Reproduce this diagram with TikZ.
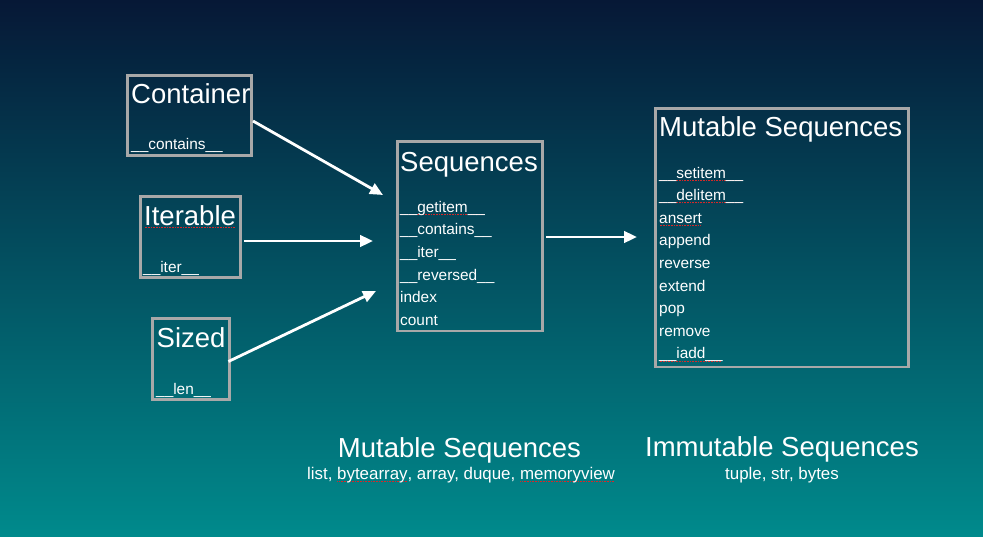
\documentclass[tikz,border=0pt]{standalone}
\usepackage{fontspec}
\setmainfont{Liberation Sans}
\usetikzlibrary{arrows.meta}
\definecolor{bgtop}{RGB}{6,24,54}
\definecolor{bgbot}{RGB}{0,138,140}
\definecolor{boxgray}{RGB}{168,168,168}
\definecolor{spellred}{RGB}{215,40,40}
\newcommand\sq[1]{\setbox0=\hbox{#1}\rlap{\color{spellred}\leaders\hbox to 1.6pt{\hss\vrule width 1pt height -1.8pt depth 2.8pt\hss}\hskip\wd0}\box0}
\tikzset{
  boxnode/.style={draw=boxgray, line width=2.7pt, inner sep=0pt, outer sep=0pt, anchor=north west},
  title/.style={text=white, inner sep=0pt, anchor=base west, font=\fontsize{27.5}{30}\selectfont},
  item/.style={text=white, inner sep=0pt, anchor=base west, font=\fontsize{15.4}{18}\selectfont},
  bigcap/.style={text=white, inner sep=0pt, anchor=base, font=\fontsize{27.5}{30}\selectfont},
  subcap/.style={text=white, inner sep=0pt, anchor=base, font=\fontsize{16.9}{19}\selectfont},
  arr/.style={draw=white, line width=2.8pt, -{Triangle[length=13pt,width=11.5pt]}}
}
\begin{document}
\begin{tikzpicture}[x=1pt,y=-1pt]
\shade[top color=bgtop, bottom color=bgbot] (0,0) rectangle (983,536);
\useasboundingbox (0,0) rectangle (983,536);

% boxes
\node[boxnode, minimum width=124pt, minimum height=80pt] (container) at (127.4,75.4) {};
\node[boxnode, minimum width=100pt, minimum height=81pt] (iterable) at (140.4,196.4) {};
\node[boxnode, minimum width=77pt, minimum height=81pt] (sized) at (152.4,318.4) {};
\node[boxnode, minimum width=145pt, minimum height=189.5pt] (seq) at (397.4,141.4) {};
\node[boxnode, minimum width=253pt, minimum height=258.5pt] (mut) at (655.4,108.4) {};

% Container
\node[title] (ctitle) at (131,103.5) {Container};
\node[item] (citem) at (131,149.5) {\_\_contains\_\_};
% Iterable
\node[title] (ititle) at (144,225) {\sq{Iterable}};
\node[item] (iitem) at (143,272) {\_\_iter\_\_};
% Sized
\node[title] (stitle) at (156.5,347) {Sized};
\node[item] (sitem) at (156,394) {\_\_len\_\_};

% Sequences
\node[title] (seqtitle) at (400,171) {Sequences};
\node[item] (q1) at (400,212.3) {\sq{\_\_getitem\_\_}};
\node[item] (q2) at (400,234.9) {\_\_contains\_\_};
\node[item] (q3) at (400,257.5) {\_\_iter\_\_};
\node[item] (q4) at (400,280.1) {\_\_reversed\_\_};
\node[item] (q5) at (400,302.7) {index};
\node[item] (q6) at (400,325.3) {count};

% Mutable Sequences box
\node[title] (muttitle) at (659,136.5) {Mutable Sequences};
\node[item] (m1) at (659,178) {\sq{\_\_setitem\_\_}};
\node[item] (m2) at (659,200.6) {\sq{\_\_delitem\_\_}};
\node[item] (m3) at (659,223.2) {\sq{ansert}};
\node[item] (m4) at (659,245.8) {append};
\node[item] (m5) at (659,268.4) {reverse};
\node[item] (m6) at (659,291) {extend};
\node[item] (m7) at (659,313.6) {pop};
\node[item] (m8) at (659,336.2) {remove};
\node[item] (m9) at (659,358.8) {\sq{\_\_iadd\_\_}};

% bottom captions
\node[bigcap] (mcap) at (459.5,457) {Mutable Sequences};
\node[subcap] (msub) at (461,479) {list, \sq{bytearray}, array, duque, \sq{memoryview}};
\node[bigcap] (icap) at (782,456.7) {Immutable Sequences};
\node[subcap] (isub) at (782,479) {tuple, str, bytes};

% arrow tips
\coordinate (t1) at (383,195);
\coordinate (t2) at (373,241);
\coordinate (t3) at (376,291);
\coordinate (t4) at (637,237);

\draw[arr] ([xshift=1.6pt,yshift=-5.6pt]container.east) -- (t1);
\draw[arr] ([xshift=3.6pt,yshift=-4.1pt]iterable.east) -- (t2);
\draw[arr] ([xshift=-1pt,yshift=-2.6pt]sized.east) -- (t3);
\draw[arr] ([xshift=3.6pt,yshift=-0.85pt]seq.east) -- (t4);
\end{tikzpicture}
\end{document}
